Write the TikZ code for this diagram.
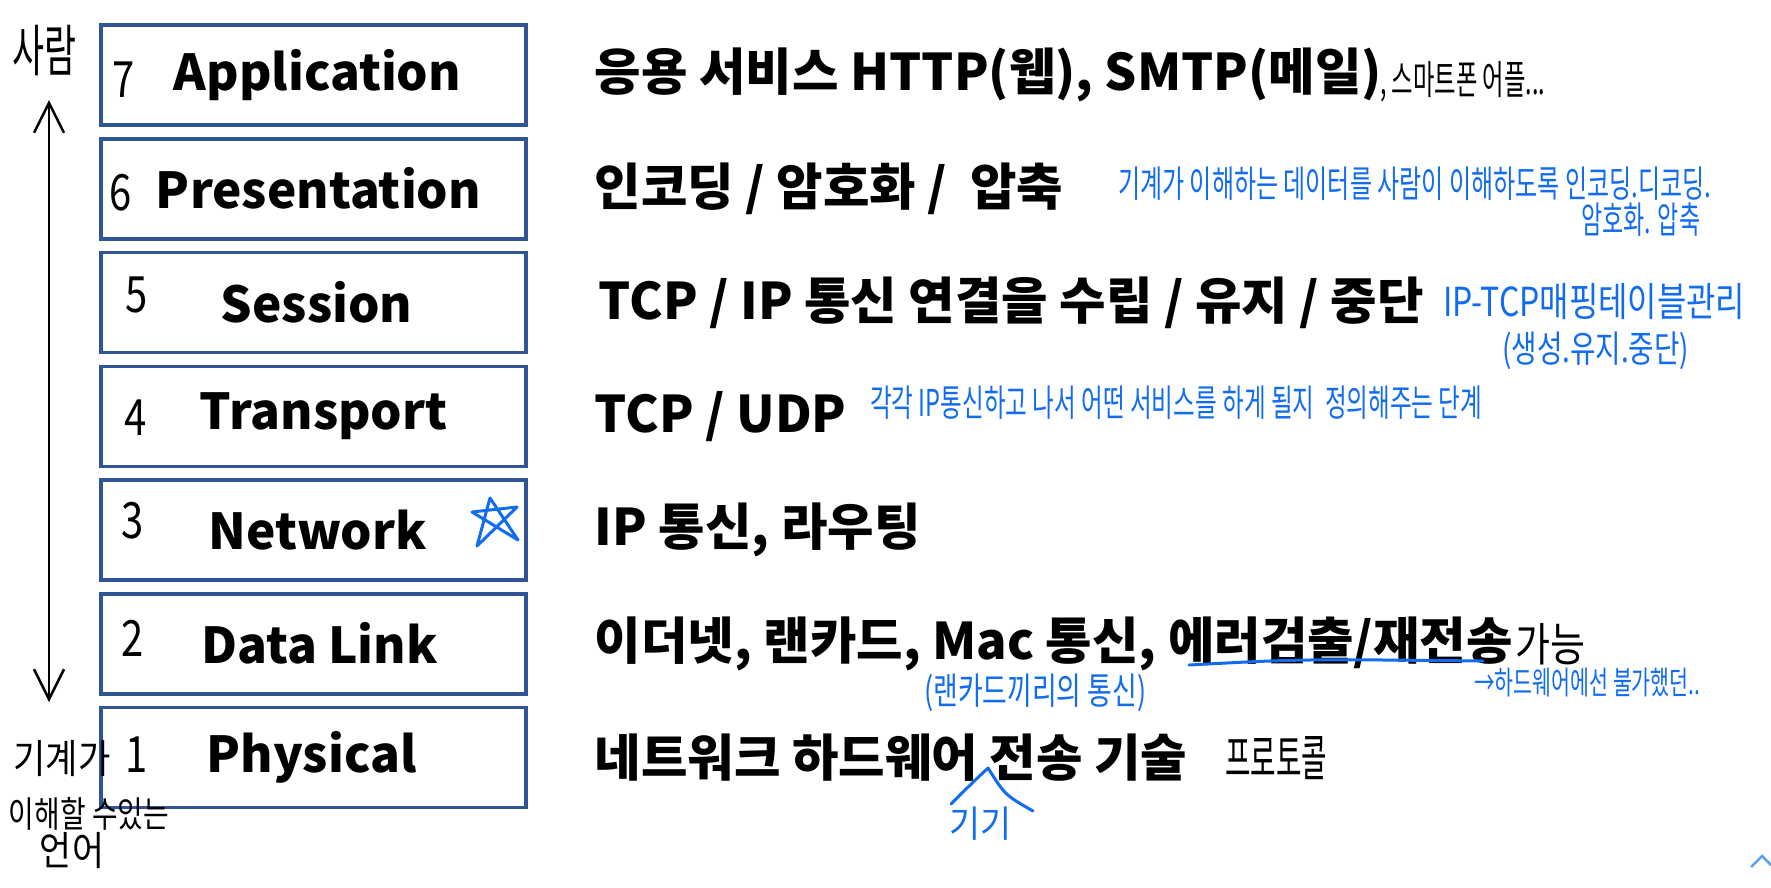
\documentclass[tikz,border=0pt]{standalone}
\usepackage{fontspec}
\usepackage{graphicx}
\setmainfont{Noto Sans CJK KR}
\usetikzlibrary{positioning,arrows.meta}
\definecolor{osiblue}{RGB}{47,85,151}
\definecolor{penblue}{RGB}{18,108,240}
\definecolor{capblue}{RGB}{96,160,240}
\newcommand\scrawl[2]{\resizebox{#1pt}{\height}{#2}}

\begin{document}
\begin{tikzpicture}[x=1pt,y=-1pt,
  node distance=10.25pt and 67pt,
  every node/.style={inner sep=0pt},
  layer/.style={rectangle,draw=osiblue,line width=3.5pt,minimum width=425pt,
    minimum height=100pt,font=\fontsize{49.5}{58}\selectfont\bfseries},
  role/.style={font=\fontsize{50.5}{60}\selectfont\bfseries},
  layerno/.style={font=\fontsize{50}{54}\selectfont\addfontfeatures{FakeStretch=.8}},
  pencil/.style={font=\fontsize{40}{46}\selectfont},
  inknote/.style={font=\fontsize{37}{42}\selectfont,text=penblue,anchor=west},
  ink/.style={penblue,line width=3pt,line cap=round,line join=round}
]
\useasboundingbox (0,0) rectangle (1771,887);
\fill[white] (0,0) rectangle (1771,887);

% the seven layers
\node[layer] (l7) at (313.5,75) {\hspace*{8pt}Application};
\node[layer,below=of l7] (l6) {\hspace*{10pt}Presentation};
\node[layer,below=of l6] (l5) {\hspace*{6pt}Session};
\node[layer,below=of l5] (l4) {\hspace*{20pt}Transport};
\node[layer,below=of l4] (l3) {\hspace*{8pt}Network};
\node[layer,below=of l3] (l2) {\hspace*{12pt}Data Link};
\node[layer,below=of l2] (l1) {\hspace*{-4pt}Physical};

% hand-written layer numbers
\node[layerno] (n7) at (124,80) {7};
\node[layerno] (n6) at (121,193) {6};
\node[layerno] (n5) at (137,295) {5};
\node[layerno] (n4) at (136,418) {4};
\node[layerno] (n3) at (133,521) {3};
\node[layerno] (n2) at (133,638) {2};
\node[layerno] (n1) at (137,755) {1};

% what each layer does
\node[role,right=of l7] (r7) {응용 서비스 HTTP(웹), SMTP(메일)};
\node[role,right=of l6] (r6) {인코딩 / 암호화 /\ \ 압축};
\node[role,right=71pt of l5] (r5) {TCP / IP 통신 연결을 수립 / 유지 / 중단};
\node[role,right=of l4] (r4) {TCP / UDP};
\node[role,right=of l3] (r3) {IP 통신, 라우팅};
\node[role,right=of l2] (r2) {이더넷, 랜카드, Mac 통신, 에러검출/재전송};
\node[role,right=of l1] (r1) {네트워크 하드웨어 전송 기술};

% notes
\node[pencil,anchor=west] (appnote) at (1380,82) {\scrawl{165}{, 스마트폰 어플...}};
\node[pencil,anchor=west,font=\fontsize{46}{50}\selectfont] (able) at ([xshift=2pt]r2.east) {\scrawl{70}{가능}};
\node[pencil,font=\fontsize{50}{54}\selectfont] (proto) at (1276,758) {\scrawl{102}{프로토콜}};
\node[inknote] (encnote) at (1118,184) {\scrawl{593}{기계가 이해하는 데이터를 사람이 이해하도록 인코딩.디코딩.}};
\node[inknote] (encnote2) at (1581,220) {\scrawl{119}{암호화. 압축}};
\node[inknote,font=\fontsize{40}{44}\selectfont] (sesnote) at (1443,302) {\scrawl{302}{IP-TCP매핑테이블관리}};
\node[inknote] (sesnote2) at (1502,351) {\scrawl{187}{(생성.유지.중단)}};
\node[inknote] (tranote) at (870,403) {\scrawl{612}{각각 IP통신하고 나서 어떤 서비스를 하게 될지\ \ 정의해주는 단계}};
\node[inknote] (lannote) at (924,693) {\scrawl{222}{(랜카드끼리의 통신)}};
\node[inknote,font=\fontsize{32}{36}\selectfont] (hwnote) at (1474,683) {\scrawl{226}{→하드웨어에선 불가했던..}};
\node[inknote,anchor=center] (gigi) at (980,824) {\scrawl{62}{기기}};
\draw[ink] (1189,665) .. controls (1300,659) .. (1483,661);
\draw[ink] (951,804) .. controls (970,785) .. (988,768) .. controls (1005,795) .. (1033,811);
\draw[ink] (477,546) -- (490,498) -- (518,540) -- (472,512) -- (517,507) -- cycle;

% human <-> machine
\node[pencil,font=\fontsize{56}{60}\selectfont] (human) at (44,51) {\scrawl{64}{사람}};
\node[pencil] (machine) at (62,759) {\scrawl{97}{기계가}};
\node[pencil,font=\fontsize{36}{40}\selectfont] (machine2) at (89,814) {\scrawl{160}{이해할 수있는}};
\node[pencil] (machine3) at (72,851) {\scrawl{64}{언어}};
\coordinate (top) at (49,100);
\coordinate (bot) at (49,702);
\draw[{Straight Barb[length=30pt,width=30pt]}-{Straight Barb[length=30pt,width=30pt]},line width=2.5pt]
  (top) -- (bot);

\draw[capblue,line width=2.5pt] (1751,867) -- (1762,856) -- (1771,865);
\end{tikzpicture}
\end{document}
